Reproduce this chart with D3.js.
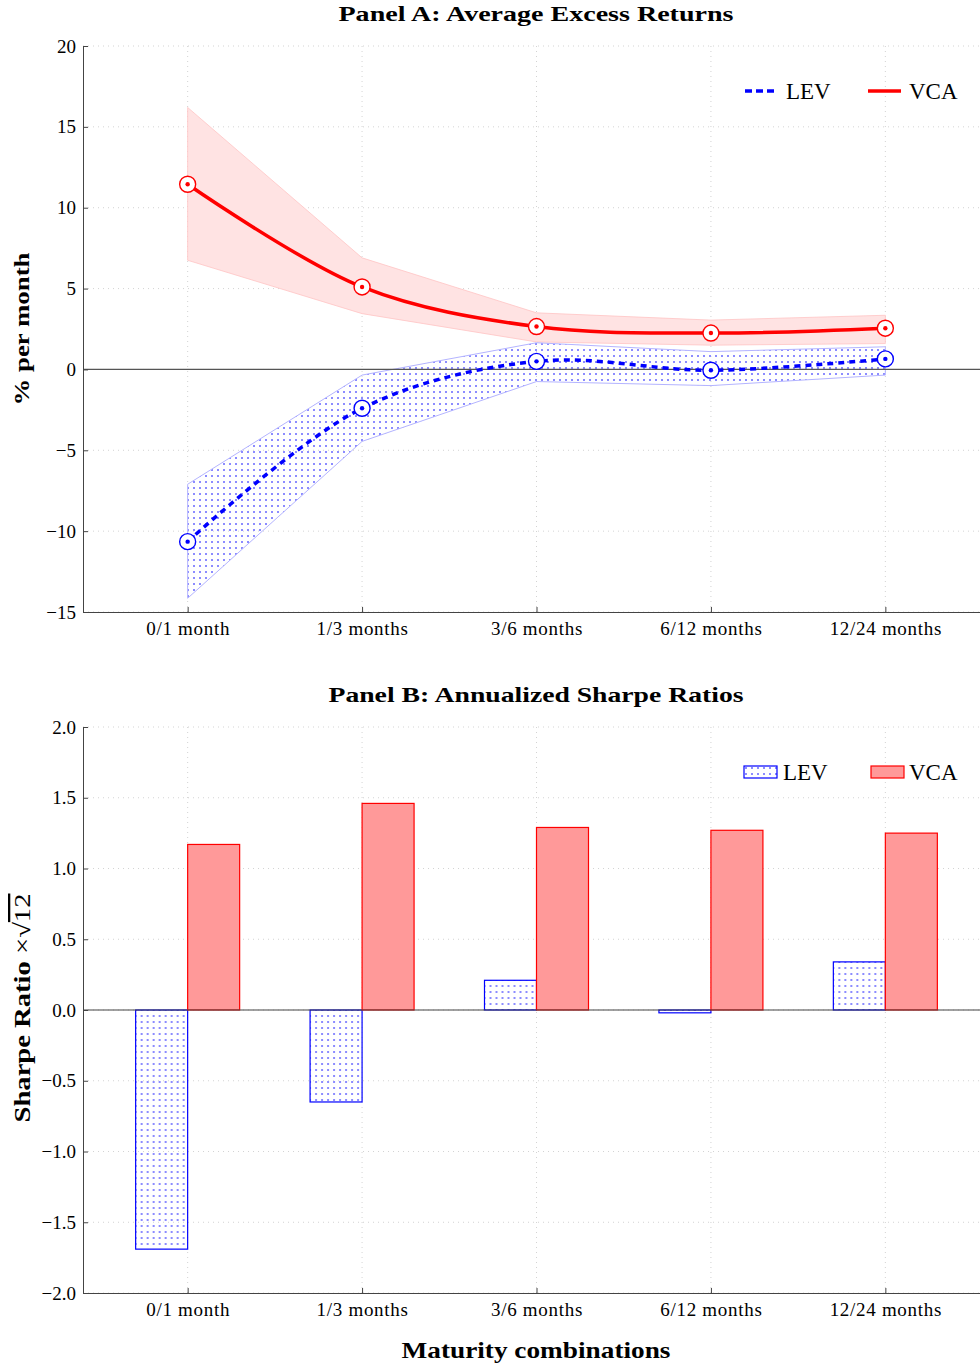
<!DOCTYPE html>
<html>
<head>
<meta charset="utf-8">
<script src="https://cdn.jsdelivr.net/npm/d3@7"></script>
<style>
  body { margin: 0; background: #fff; }
  svg text { font-family: "Liberation Serif", serif; fill: #000; }
  .grid line { stroke: #c8c8c8; stroke-width: 0.8; stroke-dasharray: 1,4; }
  .axis path, .axis line { stroke: #444; stroke-width: 1; }
</style>
</head>
<body>
<script>
// maturity combinations on the x axis
var categories = ["0/1 month", "1/3 months", "3/6 months", "6/12 months", "12/24 months"];

// Panel A: average excess returns (% per month) with confidence bands
var vcaMean  = [11.45, 5.1, 2.65, 2.25, 2.55];
var vcaUpper = [16.2, 6.9, 3.5, 3.05, 3.35];
var vcaLower = [6.75, 3.45, 1.7, 1.5, 1.6];
var levMean  = [-10.65, -2.4, 0.5, -0.05, 0.65];
var levUpper = [-7.1, -0.35, 1.65, 1.1, 1.4];
var levLower = [-14.15, -4.45, -0.75, -1.0, -0.35];

// Panel B: annualized Sharpe ratios
var sharpeLEV = [-1.69, -0.65, 0.21, -0.02, 0.34];
var sharpeVCA = [1.17, 1.46, 1.29, 1.27, 1.25];

// tick values
var ticksA = [-15, -10, -5, 0, 5, 10, 15, 20];
var ticksB = [-2, -1.5, -1, -0.5, 0, 0.5, 1, 1.5, 2];

var W = 980, H = 1363;
var left = 83, right = 990;

var svg = d3.select("body").append("svg")
  .attr("width", W)
  .attr("height", H);

// dotted pattern used for the LEV areas / bars
var defs = svg.append("defs");
var pat = defs.append("pattern")
  .attr("id", "dots")
  .attr("patternUnits", "userSpaceOnUse")
  .attr("width", 6)
  .attr("height", 6);
pat.append("rect").attr("x", 1).attr("y", 1).attr("width", 2).attr("height", 2).attr("fill", "#8c8cff");

var x = d3.scalePoint().domain(categories).range([left, right]).padding(0.6);

// ---------- Panel A ----------
var yA = d3.scaleLinear().domain([-15, 20]).range([612, 46]);

var gA = svg.append("g");

// grid
gA.append("g").attr("class", "grid")
  .selectAll("line").data(ticksA).enter().append("line")
  .attr("x1", left).attr("x2", W)
  .attr("y1", function (d) { return yA(d); })
  .attr("y2", function (d) { return yA(d); });
gA.append("g").attr("class", "grid")
  .selectAll("line").data(categories).enter().append("line")
  .attr("x1", function (d) { return x(d); })
  .attr("x2", function (d) { return x(d); })
  .attr("y1", yA(20)).attr("y2", yA(-15));

var idx = d3.range(categories.length);

// bands
var band = function (up, lo) {
  return d3.area()
    .x(function (i) { return x(categories[i]); })
    .y0(function (i) { return yA(lo[i]); })
    .y1(function (i) { return yA(up[i]); });
};
gA.append("path")
  .attr("d", band(vcaUpper, vcaLower)(idx))
  .attr("fill", "#ffe3e3")
  .attr("stroke", "#ffc4c4")
  .attr("stroke-width", 0.8);
gA.append("path")
  .attr("d", band(levUpper, levLower)(idx))
  .attr("fill", "url(#dots)")
  .attr("stroke", "#b4b4ff")
  .attr("stroke-width", 1);

// zero line
gA.append("line")
  .attr("x1", left).attr("x2", W)
  .attr("y1", yA(0)).attr("y2", yA(0))
  .attr("stroke", "#555").attr("stroke-width", 1.2);

// axes
var axA = d3.axisLeft(yA).tickValues(ticksA).tickSizeInner(-5).tickSizeOuter(0).tickPadding(7);
gA.append("g").attr("class", "axis")
  .attr("transform", "translate(" + left + ",0)")
  .call(axA)
  .attr("font-family", "Liberation Serif")
  .selectAll("text").style("font-size", "19px");
var axXA = d3.axisBottom(x).tickSizeInner(-5).tickSizeOuter(0).tickPadding(10);
gA.append("g").attr("class", "axis")
  .attr("transform", "translate(0," + yA(-15) + ")")
  .call(axXA)
  .attr("font-family", "Liberation Serif")
  .selectAll("text").style("font-size", "19px").style("letter-spacing", "0.7px");

// mean lines
var line = function (vals) {
  return d3.line()
    .x(function (i) { return x(categories[i]); })
    .y(function (i) { return yA(vals[i]); })
    .curve(d3.curveCatmullRom);
};
gA.append("path")
  .attr("d", line(levMean)(idx))
  .attr("fill", "none")
  .attr("stroke", "#0000ff")
  .attr("stroke-width", 3.5)
  .attr("stroke-dasharray", "6,5");
gA.append("path")
  .attr("d", line(vcaMean)(idx))
  .attr("fill", "none")
  .attr("stroke", "#ff0000")
  .attr("stroke-width", 3.5);

// markers
function markers(vals, col) {
  var m = gA.append("g").selectAll("g").data(idx).enter().append("g")
    .attr("transform", function (i) { return "translate(" + x(categories[i]) + "," + yA(vals[i]) + ")"; });
  m.append("circle").attr("r", 8).attr("fill", "#fff").attr("stroke", col).attr("stroke-width", 1.4);
  m.append("circle").attr("r", 2.2).attr("fill", col);
}
markers(levMean, "#0000ff");
markers(vcaMean, "#ff0000");

// title
svg.append("text")
  .attr("x", 536).attr("y", 21)
  .attr("text-anchor", "middle")
  .attr("textLength", 395).attr("lengthAdjust", "spacingAndGlyphs")
  .style("font-size", "22px").style("font-weight", "bold")
  .text("Panel A: Average Excess Returns");

// y label
svg.append("text")
  .attr("transform", "translate(29,329) rotate(-90)")
  .attr("text-anchor", "middle")
  .attr("textLength", 153).attr("lengthAdjust", "spacingAndGlyphs")
  .style("font-size", "22px").style("font-weight", "bold")
  .text("% per month");

// legend A
var legA = svg.append("g").attr("transform", "translate(0,91)");
legA.append("line").attr("x1", 745).attr("x2", 777).attr("y1", 0).attr("y2", 0)
  .attr("stroke", "#0000ff").attr("stroke-width", 3.5).attr("stroke-dasharray", "7,4");
legA.append("text").attr("x", 786).attr("y", 8).style("font-size", "23px").text("LEV");
legA.append("line").attr("x1", 868).attr("x2", 901).attr("y1", 0).attr("y2", 0)
  .attr("stroke", "#ff0000").attr("stroke-width", 3.5);
legA.append("text").attr("x", 909).attr("y", 8).style("font-size", "23px").text("VCA");

// ---------- Panel B ----------
var yB = d3.scaleLinear().domain([-2, 2]).range([1293, 727]);
var gB = svg.append("g");

gB.append("g").attr("class", "grid")
  .selectAll("line").data(ticksB).enter().append("line")
  .attr("x1", left).attr("x2", W)
  .attr("y1", function (d) { return yB(d); })
  .attr("y2", function (d) { return yB(d); });
gB.append("g").attr("class", "grid")
  .selectAll("line").data(categories).enter().append("line")
  .attr("x1", function (d) { return x(d); })
  .attr("x2", function (d) { return x(d); })
  .attr("y1", yB(2)).attr("y2", yB(-2));

var sub = d3.scaleBand().domain(["LEV", "VCA"]).range([-52, 52]);

var groups = gB.selectAll(".grp").data(idx).enter().append("g")
  .attr("transform", function (i) { return "translate(" + x(categories[i]) + ",0)"; });

groups.append("rect")
  .attr("x", sub("LEV"))
  .attr("width", sub.bandwidth())
  .attr("y", function (i) { return yB(Math.max(0, sharpeLEV[i])); })
  .attr("height", function (i) { return Math.abs(yB(sharpeLEV[i]) - yB(0)); })
  .attr("fill", "url(#dots)")
  .attr("stroke", "#0000ff")
  .attr("stroke-width", 1.2);
groups.append("rect")
  .attr("x", sub("VCA"))
  .attr("width", sub.bandwidth())
  .attr("y", function (i) { return yB(Math.max(0, sharpeVCA[i])); })
  .attr("height", function (i) { return Math.abs(yB(sharpeVCA[i]) - yB(0)); })
  .attr("fill", "#ff9999")
  .attr("stroke", "#ff0000")
  .attr("stroke-width", 1.2);

gB.append("line")
  .attr("x1", left).attr("x2", W)
  .attr("y1", yB(0)).attr("y2", yB(0))
  .attr("stroke", "#444").attr("stroke-width", 1.2);

var axB = d3.axisLeft(yB).tickValues(ticksB).tickFormat(d3.format(".1f"))
  .tickSizeInner(-5).tickSizeOuter(0).tickPadding(7);
gB.append("g").attr("class", "axis")
  .attr("transform", "translate(" + left + ",0)")
  .call(axB)
  .attr("font-family", "Liberation Serif")
  .selectAll("text").style("font-size", "19px");
gB.append("g").attr("class", "axis")
  .attr("transform", "translate(0," + yB(-2) + ")")
  .call(d3.axisBottom(x).tickSizeInner(-5).tickSizeOuter(0).tickPadding(10))
  .attr("font-family", "Liberation Serif")
  .selectAll("text").style("font-size", "19px").style("letter-spacing", "0.7px");

svg.append("text")
  .attr("x", 536).attr("y", 702)
  .attr("text-anchor", "middle")
  .attr("textLength", 415).attr("lengthAdjust", "spacingAndGlyphs")
  .style("font-size", "22px").style("font-weight", "bold")
  .text("Panel B: Annualized Sharpe Ratios");

var yl = svg.append("text")
  .attr("transform", "translate(30,1008) rotate(-90)")
  .attr("text-anchor", "middle")
  .attr("textLength", 229).attr("lengthAdjust", "spacingAndGlyphs")
  .style("font-size", "23px");
yl.append("tspan").style("font-weight", "bold").text("Sharpe Ratio ");
yl.append("tspan").text("\u00d7\u221a");
yl.append("tspan").style("text-decoration", "overline").text("12");

svg.append("text")
  .attr("x", 536).attr("y", 1358)
  .attr("text-anchor", "middle")
  .attr("textLength", 269).attr("lengthAdjust", "spacingAndGlyphs")
  .style("font-size", "23px").style("font-weight", "bold")
  .text("Maturity combinations");

// legend B
var legB = svg.append("g").attr("transform", "translate(0,772)");
legB.append("rect").attr("x", 744).attr("y", -6).attr("width", 33).attr("height", 12)
  .attr("fill", "url(#dots)").attr("stroke", "#0000ff").attr("stroke-width", 1.2);
legB.append("text").attr("x", 783).attr("y", 8).style("font-size", "23px").text("LEV");
legB.append("rect").attr("x", 871).attr("y", -6).attr("width", 33).attr("height", 12)
  .attr("fill", "#ff9999").attr("stroke", "#ff0000").attr("stroke-width", 1.2);
legB.append("text").attr("x", 909).attr("y", 8).style("font-size", "23px").text("VCA");
</script>
</body>
</html>
